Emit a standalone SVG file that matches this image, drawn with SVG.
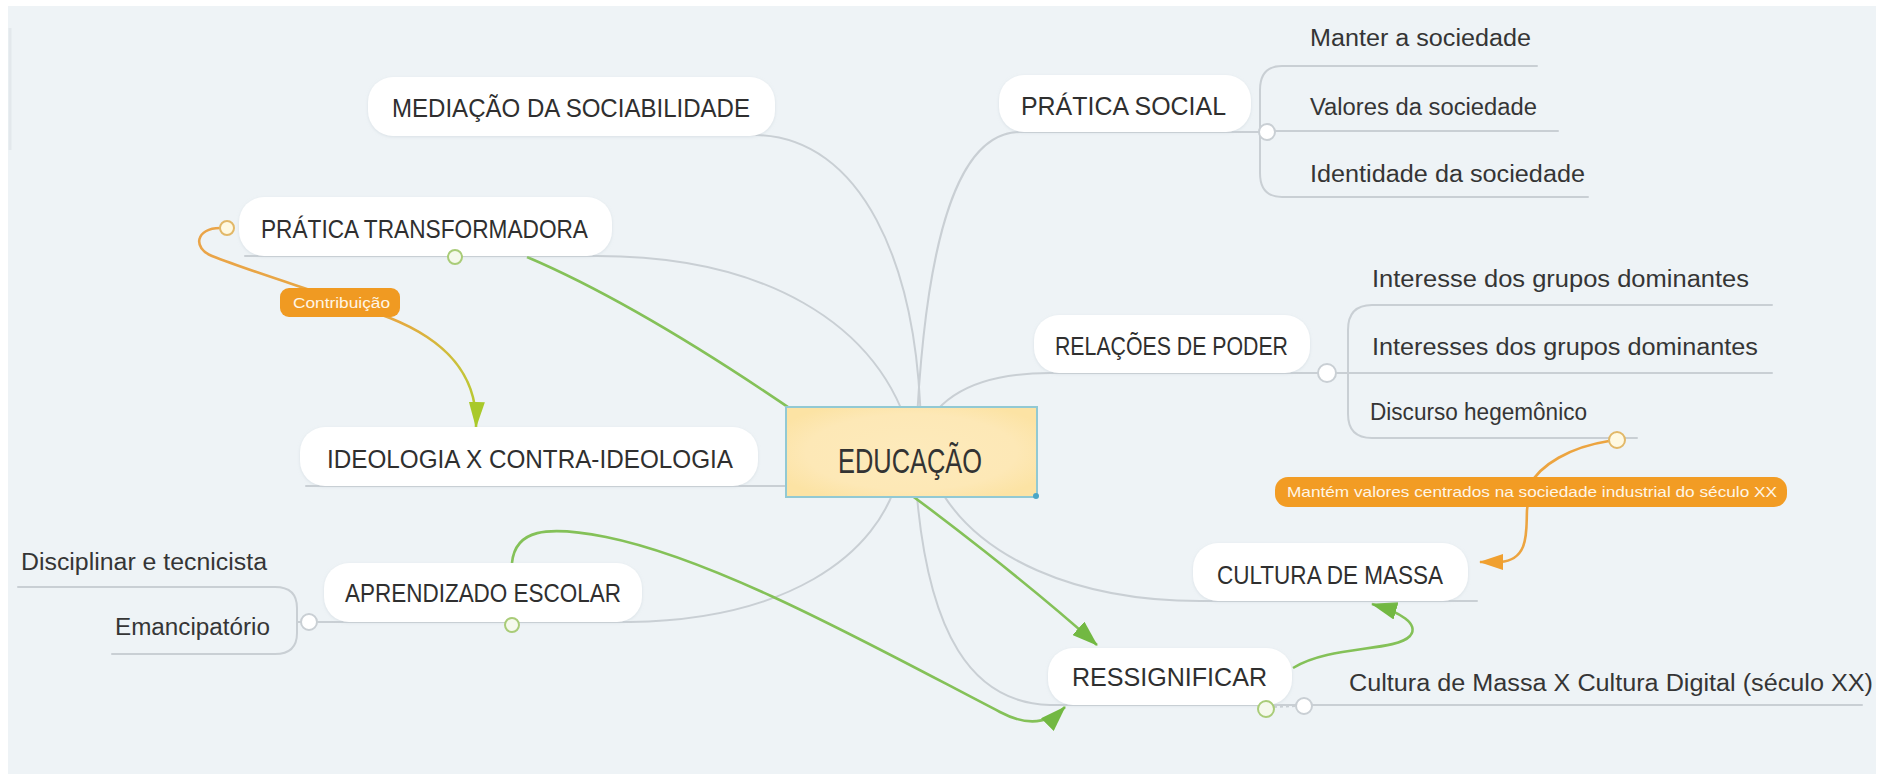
<svg xmlns="http://www.w3.org/2000/svg" width="1890" height="774" viewBox="0 0 1890 774">
  <style>
    .pill { fill: #ffffff; filter: url(#soft); }
    .topic { font-family: "Liberation Sans", "DejaVu Sans", sans-serif; font-size: 25px; fill: #2f2f2f; }
    .sub { font-family: "Liberation Sans", "DejaVu Sans", sans-serif; font-size: 23px; fill: #353535; }
    .tag { font-family: "Liberation Sans", "DejaVu Sans", sans-serif; fill: #fff6e6; }
    .branch { fill: none; stroke: #c9cfd4; stroke-width: 2; stroke-linecap: round; }
    .rel-green { fill: none; stroke: #84c158; stroke-width: 2.6; }
    .rel-orange { fill: none; stroke: #eca440; stroke-width: 2.6; }
    .knob { fill: #ffffff; stroke: #c9cfd4; stroke-width: 2; }
    .knob-green { fill: #f5f9ec; stroke: #a9cc78; stroke-width: 2; }
    .knob-orange { fill: #fff9e2; stroke: #e2b868; stroke-width: 2; }
  </style>
  <defs>
    <filter id="soft" x="-5%" y="-20%" width="110%" height="140%">
      <feDropShadow dx="0" dy="1" stdDeviation="1.5" flood-color="#c5ced6" flood-opacity="0.5"/>
    </filter>
    <marker id="arrow-green" markerUnits="userSpaceOnUse" markerWidth="26" markerHeight="18" refX="25" refY="9" orient="auto">
      <path d="M0,0 L26,9 L0,18 Z" fill="#72b842"/>
    </marker>
    <marker id="arrow-lime" markerUnits="userSpaceOnUse" markerWidth="26" markerHeight="16" refX="25" refY="8" orient="auto">
      <path d="M0,0 L26,8 L0,16 Z" fill="#a9c92a"/>
    </marker>
    <marker id="arrow-orange" markerUnits="userSpaceOnUse" markerWidth="24" markerHeight="16" refX="23" refY="8" orient="auto">
      <path d="M0,0 L24,8 L0,16 Z" fill="#f0a030"/>
    </marker>
    <linearGradient id="contrib-grad" gradientUnits="userSpaceOnUse" x1="220" y1="228" x2="476" y2="427">
      <stop offset="0" stop-color="#eaa448"/>
      <stop offset="0.6" stop-color="#e6a840"/>
      <stop offset="0.85" stop-color="#c9c23a"/>
      <stop offset="1" stop-color="#b0cb2e"/>
    </linearGradient>
    <radialGradient id="core-glow" cx="0.5" cy="0.5" r="0.6">
      <stop offset="0" stop-color="#fdeabb"/>
      <stop offset="0.7" stop-color="#fde8b6"/>
      <stop offset="1" stop-color="#fce3a4"/>
    </radialGradient>
  </defs>

  <!-- canvas -->
  <rect x="0" y="0" width="1890" height="774" fill="#ffffff"/>
  <rect x="8" y="6" width="1868" height="768" fill="#eef3f6"/>
  <line x1="10" y1="28" x2="10" y2="150" stroke="#e3e8ec" stroke-width="3"/>

  <g id="connectors">
    <!-- branches from the central topic -->
    <path class="branch" d="M400 135 L757 135 C860 138 918 260 921 430"/>
    <path class="branch" d="M245 256 L597 256 C760 256 880 320 912 440"/>
    <path class="branch" d="M306 486 L800 486"/>
    <path class="branch" d="M318 622 L630 622 C780 620 880 560 900 470"/>
    <path class="branch" d="M1259 132 L1020 132 C960 132 925 230 916 440"/>
    <path class="branch" d="M1318 373 L1050 373 C980 373 935 395 920 440"/>
    <path class="branch" d="M1477 601 L1200 601 C1080 601 975 560 935 480"/>
    <path class="branch" d="M1296 705 L1050 705 C975 703 925 640 915 470"/>

    <!-- sub-branches -->
    <path class="branch" d="M1537 66 L1282 66 Q1260 66 1260 90 L1260 173 Q1260 197 1282 197 L1588 197"/>
    <path class="branch" d="M1267 131 L1558 131"/>
    <path class="branch" d="M1772 305 L1372 305 Q1348 305 1348 330 L1348 414 Q1348 438 1372 438 L1637 438"/>
    <path class="branch" d="M1327 373 L1772 373"/>
    <path class="branch" d="M18 587 L275 587 Q297 587 297 608 L297 633 Q297 654 275 654 L112 654"/>
    <path class="branch" d="M309 622 L297 622"/>
    <path class="branch" d="M1304 705 L1862 705"/>
    <path d="M1274 707 L1296 706" fill="none" stroke="#c9cfd4" stroke-width="2" stroke-dasharray="3 3"/>

    <!-- relationships -->
    <path class="rel-green" d="M527 257 C710 335 980 540 1097 645" marker-end="url(#arrow-green)"/>
    <path class="rel-green" d="M512 563 C515 530 545 525 606 537 C720 560 880 650 1000 712 C1030 728 1050 722 1065 707" marker-end="url(#arrow-green)"/>
    <path class="rel-green" d="M1293 668 C1330 645 1395 652 1410 636 C1420 624 1400 612 1372 604" marker-end="url(#arrow-green)"/>
    <path fill="none" stroke="url(#contrib-grad)" stroke-width="2.6" d="M220 228 C196 228 192 248 212 256 C260 275 330 295 390 318 C440 338 478 370 476 427" marker-end="url(#arrow-lime)"/>
    <path class="rel-orange" d="M1609 441 C1570 447 1540 465 1530 485 L1527 510 C1526 530 1530 560 1500 562 L1480 562" marker-end="url(#arrow-orange)"/>
  </g>

  <g id="node-educacao">
    <rect x="786" y="407" width="251" height="90" fill="url(#core-glow)" stroke="#92c9d3" stroke-width="2"/>
    <circle cx="1036" cy="496" r="3" fill="#4aa6c6"/>
    <text x="838" y="473" font-family="Liberation Sans, DejaVu Sans, sans-serif" font-size="35" fill="#333333" textLength="144" lengthAdjust="spacingAndGlyphs">EDUCAÇÃO</text>
  </g>

  <g id="node-mediacao">
    <rect class="pill" x="368" y="77" width="407" height="59" rx="25"/>
    <text class="topic" x="392" y="117" textLength="358" lengthAdjust="spacingAndGlyphs">MEDIAÇÃO DA SOCIABILIDADE</text>
  </g>

  <g id="node-pratica-transformadora">
    <rect class="pill" x="239" y="197" width="373" height="59" rx="25"/>
    <text class="topic" x="261" y="238" textLength="327" lengthAdjust="spacingAndGlyphs">PRÁTICA TRANSFORMADORA</text>
  </g>

  <g id="node-ideologia">
    <rect class="pill" x="300" y="427" width="458" height="59" rx="25"/>
    <text class="topic" x="327" y="468" textLength="406" lengthAdjust="spacingAndGlyphs">IDEOLOGIA X CONTRA-IDEOLOGIA</text>
  </g>

  <g id="node-aprendizado">
    <rect class="pill" x="324" y="563" width="318" height="59" rx="25"/>
    <text class="topic" x="345" y="602" textLength="276" lengthAdjust="spacingAndGlyphs">APRENDIZADO ESCOLAR</text>
  </g>

  <g id="node-disciplinar">
    <text class="sub" x="21" y="570" textLength="246" lengthAdjust="spacingAndGlyphs">Disciplinar e tecnicista</text>
  </g>
  <g id="node-emancipatorio">
    <text class="sub" x="115" y="635" textLength="155" lengthAdjust="spacingAndGlyphs">Emancipatório</text>
  </g>

  <g id="node-pratica-social">
    <rect class="pill" x="999" y="75" width="252" height="57" rx="25"/>
    <text class="topic" x="1021" y="115" textLength="205" lengthAdjust="spacingAndGlyphs">PRÁTICA SOCIAL</text>
  </g>
  <g id="node-manter">
    <text class="sub" x="1310" y="46" textLength="221" lengthAdjust="spacingAndGlyphs">Manter a sociedade</text>
  </g>
  <g id="node-valores">
    <text class="sub" x="1310" y="115" textLength="227" lengthAdjust="spacingAndGlyphs">Valores da sociedade</text>
  </g>
  <g id="node-identidade">
    <text class="sub" x="1310" y="182" textLength="275" lengthAdjust="spacingAndGlyphs">Identidade da sociedade</text>
  </g>

  <g id="node-relacoes">
    <rect class="pill" x="1034" y="315" width="276" height="58" rx="25"/>
    <text class="topic" x="1055" y="355" textLength="233" lengthAdjust="spacingAndGlyphs">RELAÇÕES DE PODER</text>
  </g>
  <g id="node-interesse">
    <text class="sub" x="1372" y="287" textLength="377" lengthAdjust="spacingAndGlyphs">Interesse dos grupos dominantes</text>
  </g>
  <g id="node-interesses">
    <text class="sub" x="1372" y="355" textLength="386" lengthAdjust="spacingAndGlyphs">Interesses dos grupos dominantes</text>
  </g>
  <g id="node-discurso">
    <text class="sub" x="1370" y="420" textLength="217" lengthAdjust="spacingAndGlyphs">Discurso hegemônico</text>
  </g>

  <g id="node-cultura-massa">
    <rect class="pill" x="1193" y="543" width="275" height="58" rx="25"/>
    <text class="topic" x="1217" y="584" textLength="226" lengthAdjust="spacingAndGlyphs">CULTURA DE MASSA</text>
  </g>

  <g id="node-ressignificar">
    <rect class="pill" x="1048" y="648" width="244" height="57" rx="25"/>
    <text class="topic" x="1072" y="686" textLength="195" lengthAdjust="spacingAndGlyphs">RESSIGNIFICAR</text>
  </g>
  <g id="node-cultura-digital">
    <text class="sub" x="1349" y="691" textLength="524" lengthAdjust="spacingAndGlyphs">Cultura de Massa X Cultura Digital (século XX)</text>
  </g>

  <g id="label-contribuicao">
    <rect x="280" y="288" width="120" height="29" rx="9" fill="#f09a22"/>
    <text class="tag" x="293" y="308" font-size="14" textLength="97" lengthAdjust="spacingAndGlyphs">Contribuição</text>
  </g>

  <g id="label-mantem">
    <rect x="1275" y="477" width="512" height="30" rx="13" fill="#f29c24"/>
    <text class="tag" x="1287" y="497" font-size="15" textLength="490" lengthAdjust="spacingAndGlyphs">Mantém valores centrados na sociedade industrial do século XX</text>
  </g>

  <g id="handles">
    <circle class="knob" cx="309" cy="622" r="8"/>
    <circle class="knob" cx="1267" cy="132" r="8"/>
    <circle class="knob" cx="1327" cy="373" r="9"/>
    <circle class="knob" cx="1304" cy="706" r="8"/>
    <circle class="knob-green" cx="455" cy="257" r="7"/>
    <circle class="knob-green" cx="512" cy="625" r="7"/>
    <circle class="knob-green" cx="1266" cy="709" r="8"/>
    <circle class="knob-orange" cx="227" cy="228" r="7"/>
    <circle class="knob-orange" cx="1617" cy="440" r="8"/>
  </g>
</svg>
